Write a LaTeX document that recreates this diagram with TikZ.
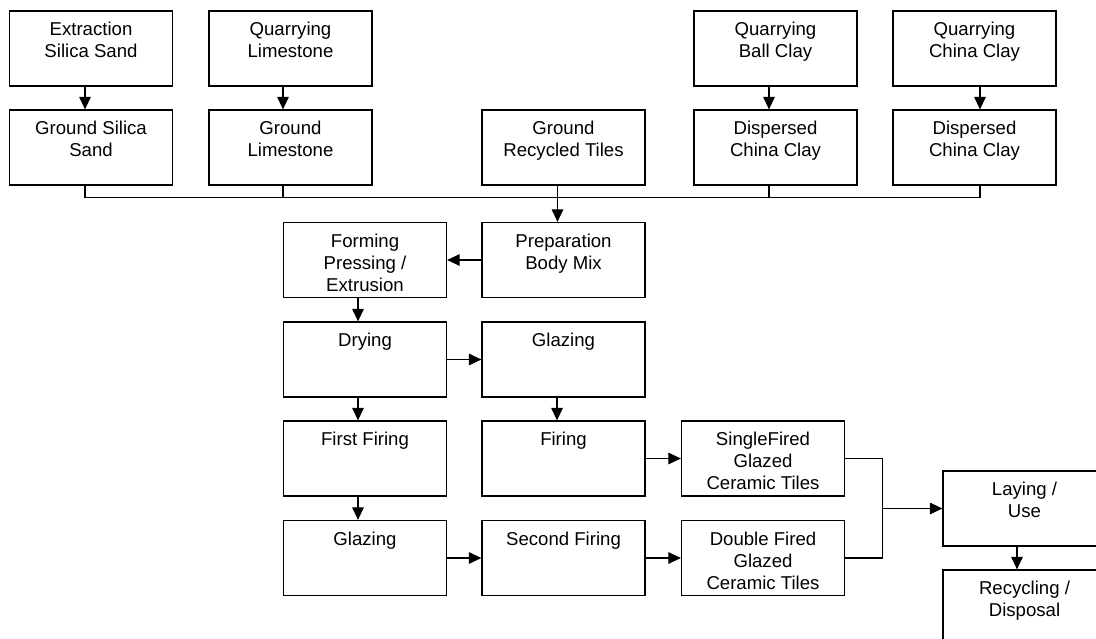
\documentclass[tikz,border=0pt]{standalone}
\usepackage{fontspec}
\setmainfont{Liberation Sans}
\usetikzlibrary{arrows.meta}

% a process box with its caption set near the top edge
\newcommand\stage[3]{%
  \node[box] (#1) at (#2) {};
  \node[lbl] (#1-t) at ([yshift=-9.6pt]#1.north) {\strut #3};
}

\begin{document}
\begin{tikzpicture}[x=1pt, y=-1pt,
  box/.style={draw, line width=1.2pt, minimum width=163pt, minimum height=75pt, inner sep=0pt},
  lbl/.style={anchor=north, inner sep=0pt, align=center, font=\fontsize{18.6}{22}\selectfont},
  link/.style={line width=1.1pt},
  flow/.style={line width=1.1pt, -{Triangle[length=12.5pt,width=11.5pt]}}]
\useasboundingbox (0,0) rectangle (1096,638);
\clip (0,0) rectangle (1096,638);

% raw materials
\stage{exsand}{91,48.5}{Extraction\\Silica Sand}
\stage{qlime}{290.5,48.5}{Quarrying\\Limestone}
\stage{qball}{775.5,48.5}{Quarrying\\Ball Clay}
\stage{qchina}{974.5,48.5}{Quarrying\\China Clay}

% prepared materials
\stage{gsand}{91,147.5}{Ground Silica\\Sand}
\stage{glime}{290.5,147.5}{Ground\\Limestone}
\stage{grecyc}{563.5,147.5}{Ground\\Recycled Tiles}
\stage{dball}{775.5,147.5}{Dispersed\\China Clay}
\stage{dchina}{974.5,147.5}{Dispersed\\China Clay}

% production
\stage{forming}{365,260}{Forming\\Pressing /\\Extrusion}
\stage{prep}{563.5,260}{Preparation\\Body Mix}
\stage{drying}{365,359.5}{Drying}
\stage{glazeA}{563.5,359.5}{Glazing}
\stage{firstfire}{365,458.5}{First Firing}
\stage{firing}{563.5,458.5}{Firing}
\stage{single}{763,458.5}{SingleFired\\Glazed\\Ceramic Tiles}
\stage{glazeB}{365,558}{Glazing}
\stage{second}{563.5,558}{Second Firing}
\stage{double}{763,558}{Double Fired\\Glazed\\Ceramic Tiles}

% end of life
\stage{laying}{1024.5,508.5}{Laying /\\Use}
\stage{recyc}{1024.5,607.5}{Recycling /\\Disposal}

% extraction to grinding / dispersion
\draw[flow] ([xshift=-6pt]exsand.south) -- ([xshift=-6pt]gsand.north);
\draw[flow] ([xshift=-7.5pt]qlime.south) -- ([xshift=-7.5pt]glime.north);
\draw[flow] ([xshift=-6.5pt]qball.south) -- ([xshift=-6.5pt]dball.north);
\draw[flow] ([xshift=5.5pt]qchina.south) -- ([xshift=5.5pt]dchina.north);

% collecting bus into the body mix
\draw[link] ([xshift=-6pt]gsand.south) -- ++(0,12) -| ([xshift=5.5pt]dchina.south);
\draw[link] ([xshift=-7.5pt]glime.south) -- ++(0,12);
\draw[link] ([xshift=-6.5pt]dball.south) -- ++(0,12);
\draw[flow] ([xshift=-6pt]grecyc.south) -- ([xshift=-6pt]prep.north);

% forming, drying and firing routes
\draw[flow] (prep.west) -- (forming.east);
\draw[flow] ([xshift=-7pt]forming.south) -- ([xshift=-7pt]drying.north);
\draw[flow] (drying.east) -- (glazeA.west);
\draw[flow] ([xshift=-7pt]drying.south) -- ([xshift=-7pt]firstfire.north);
\draw[flow] ([xshift=-6.5pt]glazeA.south) -- ([xshift=-6.5pt]firing.north);
\draw[flow] ([xshift=-7pt]firstfire.south) -- ([xshift=-7pt]glazeB.north);
\draw[flow] (glazeB.east) -- (second.west);
\draw[flow] (firing.east) -- (single.west);
\draw[flow] (second.east) -- (double.west);

% both tile kinds go to use
\draw[link] (single.east) -- ++(37,0) |- (double.east);
\coordinate (join) at ([xshift=37pt]single.east |- laying.west);
\draw[flow] (join) -- (laying.west);
\draw[flow] ([xshift=-7.5pt]laying.south) -- ([xshift=-7.5pt]recyc.north);
\end{tikzpicture}
\end{document}
